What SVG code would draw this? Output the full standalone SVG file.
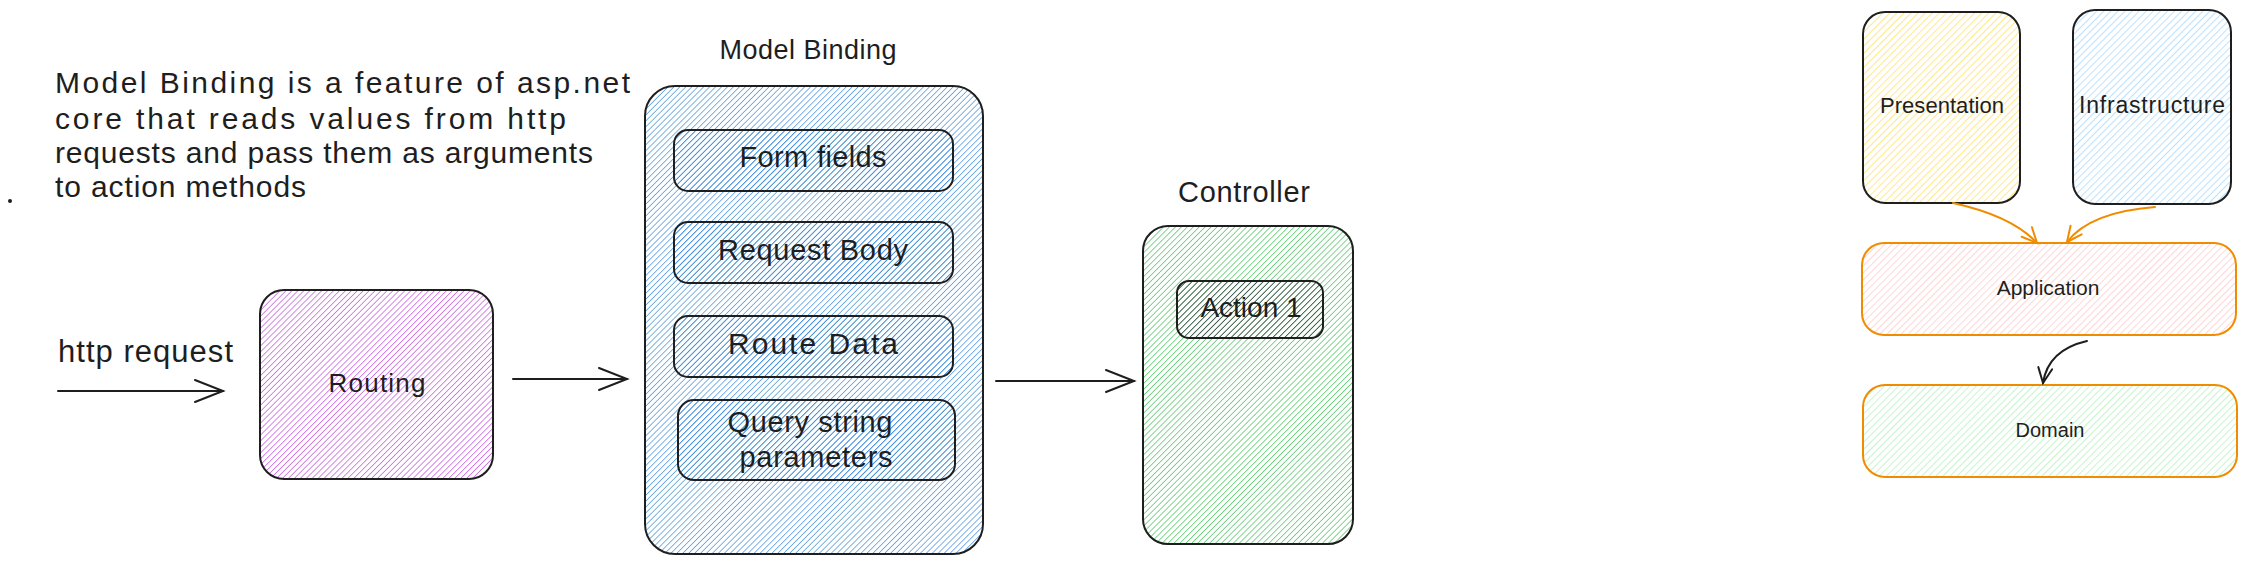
<svg xmlns="http://www.w3.org/2000/svg" width="2246" height="564" viewBox="0 0 2246 564">
<style>
text{font-family:"Liberation Sans",Arial,sans-serif;fill:#1e1e1e}
.box{stroke:#1e1e1e;stroke-width:2}
.obox{stroke:#f08c00;stroke-width:2}
.conn{fill:none;stroke:#1e1e1e;stroke-width:2;stroke-linecap:round}
.oconn{fill:none;stroke:#f08c00;stroke-width:2;stroke-linecap:round}
</style>
<defs>
<pattern id="hPurple" width="4.2" height="4.2" patternUnits="userSpaceOnUse" patternTransform="rotate(45)"><line x1="0" y1="0" x2="0" y2="4.2" stroke="#be4bdb" stroke-width="1.3"/></pattern>
<pattern id="hBlue" width="4.2" height="4.2" patternUnits="userSpaceOnUse" patternTransform="rotate(45)"><line x1="0" y1="0" x2="0" y2="4.2" stroke="#3d8bd8" stroke-width="1.3"/></pattern>
<pattern id="hGreen" width="4.2" height="4.2" patternUnits="userSpaceOnUse" patternTransform="rotate(45)"><line x1="0" y1="0" x2="0" y2="4.2" stroke="#40c057" stroke-width="1.3"/></pattern>
<pattern id="hDark" width="4.2" height="4.2" patternUnits="userSpaceOnUse" patternTransform="rotate(45)"><line x1="0" y1="0" x2="0" y2="4.2" stroke="#343a40" stroke-width="1.3"/></pattern>
<pattern id="hYellow" width="5" height="5" patternUnits="userSpaceOnUse" patternTransform="rotate(45)"><line x1="0" y1="0" x2="0" y2="5" stroke="#ffe066" stroke-width="1.5"/></pattern>
<pattern id="hLBlue" width="5" height="5" patternUnits="userSpaceOnUse" patternTransform="rotate(45)"><line x1="0" y1="0" x2="0" y2="5" stroke="#a5d8ff" stroke-width="1.5"/></pattern>
<pattern id="hRed" width="5" height="5" patternUnits="userSpaceOnUse" patternTransform="rotate(45)"><line x1="0" y1="0" x2="0" y2="5" stroke="#ffc9c9" stroke-width="1.5"/></pattern>
<pattern id="hLGreen" width="5" height="5" patternUnits="userSpaceOnUse" patternTransform="rotate(45)"><line x1="0" y1="0" x2="0" y2="5" stroke="#b2f2bb" stroke-width="1.5"/></pattern>
<marker id="arr" markerWidth="32" markerHeight="26" refX="29" refY="12" orient="auto" markerUnits="userSpaceOnUse"><path d="M1,1 L29,12 L1,23" fill="none" stroke="#1e1e1e" stroke-width="2" stroke-linecap="round"/></marker>
<marker id="arrO" markerWidth="20" markerHeight="18" refX="17" refY="8" orient="auto" markerUnits="userSpaceOnUse"><path d="M2,1 L17,8 L2,15" fill="none" stroke="#f08c00" stroke-width="2" stroke-linecap="round"/></marker>
<marker id="arrS" markerWidth="20" markerHeight="18" refX="17" refY="8" orient="auto" markerUnits="userSpaceOnUse"><path d="M2,1 L17,8 L2,15" fill="none" stroke="#1e1e1e" stroke-width="2" stroke-linecap="round"/></marker>
</defs>
<rect width="2246" height="564" fill="#ffffff"/>

<g id="note">
<circle cx="10" cy="201" r="2" fill="#1e1e1e"/>
<text x="55" y="93" font-size="30" textLength="575">Model Binding is a feature of asp.net</text>
<text x="55" y="129" font-size="30" textLength="511">core that reads values from http</text>
<text x="55" y="163" font-size="30" textLength="538">requests and pass them as arguments</text>
<text x="55" y="197" font-size="30" textLength="251">to action methods</text>
</g>

<g id="http-request">
<text x="58" y="362" font-size="31" textLength="175">http request</text>
</g>

<g id="routing">
<rect class="box" x="260" y="290" width="233" height="189" rx="24" fill="url(#hPurple)"/>
<text x="377" y="392" font-size="26" text-anchor="middle" textLength="97">Routing</text>
</g>

<g id="model-binding">
<text x="808" y="59" font-size="27" text-anchor="middle" textLength="177">Model Binding</text>
<rect class="box" x="645" y="86" width="338" height="468" rx="30" fill="url(#hBlue)"/>
</g>
<g id="form-fields">
<rect class="box" x="674" y="130" width="279" height="61" rx="14" fill="url(#hBlue)"/>
<text x="813" y="167" font-size="29" text-anchor="middle" textLength="147">Form fields</text>
</g>
<g id="request-body">
<rect class="box" x="674" y="222" width="279" height="61" rx="14" fill="url(#hBlue)"/>
<text x="813" y="260" font-size="29" text-anchor="middle" textLength="190">Request Body</text>
</g>
<g id="route-data">
<rect class="box" x="674" y="316" width="279" height="61" rx="14" fill="url(#hBlue)"/>
<text x="813" y="354" font-size="30" text-anchor="middle" textLength="170">Route Data</text>
</g>
<g id="query-string">
<rect class="box" x="678" y="400" width="277" height="80" rx="16" fill="url(#hBlue)"/>
<text x="810" y="432" font-size="29" text-anchor="middle" textLength="165">Query string</text>
<text x="816" y="467" font-size="29" text-anchor="middle" textLength="153">parameters</text>
</g>

<g id="controller">
<text x="1244" y="202" font-size="29" text-anchor="middle" textLength="132">Controller</text>
<rect class="box" x="1143" y="226" width="210" height="318" rx="25" fill="url(#hGreen)"/>
</g>
<g id="action-1">
<rect class="box" x="1177" y="281" width="146" height="57" rx="12" fill="url(#hDark)"/>
<text x="1251" y="317" font-size="28" text-anchor="middle">Action 1</text>
</g>

<g id="presentation">
<rect class="box" x="1863" y="12" width="157" height="191" rx="22" fill="url(#hYellow)"/>
<text x="1942" y="113" font-size="22" text-anchor="middle" textLength="124">Presentation</text>
</g>
<g id="infrastructure">
<rect class="box" x="2073" y="10" width="158" height="194" rx="22" fill="url(#hLBlue)"/>
<text x="2152" y="113" font-size="23" text-anchor="middle" textLength="146">Infrastructure</text>
</g>
<g id="application">
<rect class="obox" x="1862" y="243" width="374" height="92" rx="22" fill="url(#hRed)"/>
<text x="2048" y="295" font-size="21" text-anchor="middle">Application</text>
</g>
<g id="domain">
<rect class="obox" x="1863" y="385" width="374" height="92" rx="22" fill="url(#hLGreen)"/>
<text x="2050" y="437" font-size="20" text-anchor="middle">Domain</text>
</g>

<g id="connectors">
<path class="conn" d="M58,391 L223,391" marker-end="url(#arr)"/>
<path class="conn" d="M513,379 L627,379" marker-end="url(#arr)"/>
<path class="conn" d="M996,381 L1134,381" marker-end="url(#arr)"/>
<path class="oconn" d="M1953,203 Q2012,216 2037,243" marker-end="url(#arrO)"/>
<path class="oconn" d="M2155,207 Q2090,212 2067,242" marker-end="url(#arrO)"/>
<path class="conn" d="M2087,341 Q2048,350 2043,383" marker-end="url(#arrS)"/>
</g>
</svg>
